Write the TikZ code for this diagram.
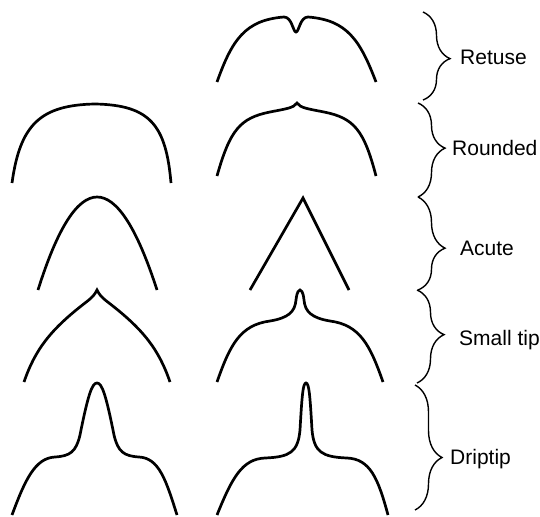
\documentclass[tikz,border=0pt]{standalone}
\usepackage{fontspec}
\setmainfont{Liberation Sans}
\usetikzlibrary{decorations.pathreplacing}
\begin{document}
\begin{tikzpicture}[x=1pt, y=-1pt]
    \tikzset{leaf/.style={line width=2.7pt},
             group/.style={line width=1.4pt, decorate, decoration={brace, amplitude=27pt, aspect=#1}},
             group/.default=0.5,
             tag/.style={anchor=base west, inner sep=0pt, font=\fontsize{21}{25}\selectfont}}
    \useasboundingbox (0,0) rectangle (540,516);
    % retuse
    \draw[leaf] (217,82) .. controls (232,40) and (245,20) .. (284,17)
        .. controls (292,17) and (293,32) .. (296,32)
        .. controls (299,32) and (300,17) .. (308,17)
        .. controls (347,20) and (360,40) .. (376,82);
    % rounded
    \draw[leaf] (12,183) .. controls (20,125) and (40,105) .. (95,104)
        .. controls (150,105) and (166,125) .. (171,183);
    \draw[leaf] (217,176) .. controls (230,130) and (240,118) .. (270,112)
        .. controls (285,109) and (294,108) .. (297,103)
        .. controls (300,108) and (309,109) .. (324,112)
        .. controls (354,118) and (364,130) .. (376,176);
    % acute
    \draw[leaf] (38,290) .. controls (77,166) and (117,166) .. (157,290);
    \draw[leaf] (250,290) -- (303,198) -- (349,290);
    % small tip
    \draw[leaf] (24,382) .. controls (35,350) and (50,330) .. (85,303)
        .. controls (93,297) and (95,294) .. (97,290)
        .. controls (99,294) and (101,297) .. (109,303)
        .. controls (144,330) and (159,350) .. (170,382);
    \draw[leaf] (217,382) .. controls (230,345) and (240,325) .. (270,321)
        .. controls (288,318) and (295,312) .. (296,300)
        .. controls (297,291) and (299,290) .. (300,290)
        .. controls (301,290) and (303,291) .. (304,300)
        .. controls (305,312) and (312,318) .. (330,321)
        .. controls (360,325) and (370,345) .. (383,382);
    % driptip
    \draw[leaf] (12,515) .. controls (25,480) and (35,458) .. (55,457)
        .. controls (70,456) and (76,452) .. (80,435)
        .. controls (88,395) and (92,383) .. (97,383)
        .. controls (102,383) and (106,395) .. (114,435)
        .. controls (118,452) and (124,456) .. (139,457)
        .. controls (159,458) and (166,480) .. (177,515);
    \draw[leaf] (217,515) .. controls (232,478) and (242,459) .. (265,458)
        .. controls (290,457) and (298,452) .. (300,430)
        .. controls (302,395) and (303,383) .. (306,383)
        .. controls (309,383) and (310,395) .. (312,430)
        .. controls (314,452) and (322,457) .. (347,458)
        .. controls (370,459) and (378,478) .. (388,515);
    % braces and names
    \draw[group=0.53] (423,12) -- (423,100);
    \draw[group=0.48] (418,103) -- (418,197);
    \draw[group=0.55] (418,197) -- (418,290);
    \draw[group=0.48] (417,290) -- (417,383);
    \draw[group=0.58] (415,385) -- (415,510);
    \node[tag] (retuse) at (460,65) {Retuse};
    \node[tag] (rounded) at (452,155) {Rounded};
    \node[tag] (acute) at (460,255) {Acute};
    \node[tag] (smalltip) at (459,345) {Small tip};
    \node[tag] (driptip) at (450,464) {Driptip};
\end{tikzpicture}
\end{document}
